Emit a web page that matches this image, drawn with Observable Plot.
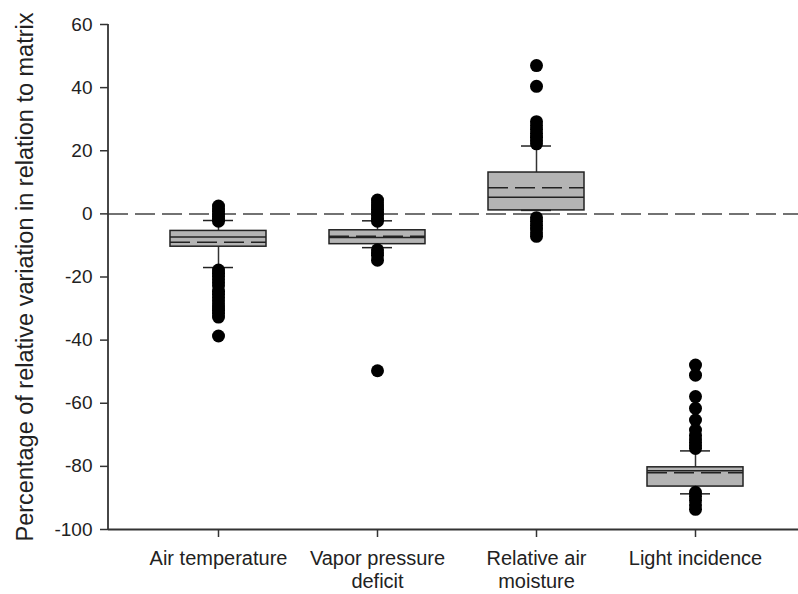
<!DOCTYPE html>
<html>
<head>
<meta charset="utf-8">
<script src="https://cdn.jsdelivr.net/npm/d3@7"></script>
<script src="https://cdn.jsdelivr.net/npm/@observablehq/plot@0.6"></script>
<style>
  html, body { margin: 0; padding: 0; background: #fff; }
  #chart { width: 798px; height: 594px; }
</style>
</head>
<body>
<div id="chart"></div>
<script>
const categories = ["Air temperature", "Vapor pressure\ndeficit", "Relative air\nmoisture", "Light incidence"];
const q1 = [-10.4, -9.6, 1.1, -86.4];
const q3 = [-5.4, -5.2, 13.1, -80.3];
const median = [-7.3, -7.5, 5.3, -81.4];
const mean = [-9.0, -7.1, 8.3, -82.0];
const whiskerLo = [-17.0, -10.7, 1.1, -88.7];
const whiskerHi = [-2.1, -2.2, 21.5, -75.1];
const outliersAir = [2.5, 1.6, 0.8, 0, -0.8, -1.5, -2.3, -17.8, -18.8, -19.8, -20.8, -21.8, -22.8, -24.5, -25.5, -26.5, -27.5, -28.5, -29.5, -30.5, -31.5, -32.7, -38.7];
const outliersVpd = [4.4, 3.5, 2.5, 1.5, 0.5, -0.5, -1.5, -2.3, -11.4, -12.3, -13.2, -14.7, -49.7];
const outliersRh = [47, 40.4, 29.2, 28, 26.8, 25.5, 24.3, 23.2, 22.2, -1.2, -2.4, -3.6, -4.8, -6, -7.1];
const outliersLight = [-47.9, -51.1, -57.9, -61.6, -65.3, -68.5, -70.2, -71.3, -72.4, -73.4, -74.3, -88.2, -89.5, -90.8, -92.2, -93.6];
const yTicks = [-100, -80, -60, -40, -20, 0, 20, 40, 60];
const yLabel = "Percentage of relative variation in relation to matrix";

const boxes = categories.map((c, i) => ({
  cat: c, q1: q1[i], q3: q3[i], median: median[i], mean: mean[i],
  lo: whiskerLo[i], hi: whiskerHi[i]
}));
const outlierLists = [outliersAir, outliersVpd, outliersRh, outliersLight];
const outliers = outlierLists.flatMap((list, i) => list.map(v => ({cat: categories[i], v})));

const ink = "#222";

const leftAxisLine = (index, scales, values, dims) => {
  const ns = "http://www.w3.org/2000/svg";
  const l = document.createElementNS(ns, "line");
  l.setAttribute("x1", dims.marginLeft);
  l.setAttribute("x2", dims.marginLeft);
  l.setAttribute("y1", dims.marginTop);
  l.setAttribute("y2", dims.height - dims.marginBottom);
  l.setAttribute("stroke", "#333");
  l.setAttribute("stroke-width", 1.8);
  return l;
};

const chart = Plot.plot({
  width: 798,
  height: 594,
  marginLeft: 108,
  marginRight: 0,
  marginTop: 24,
  marginBottom: 65,
  style: {fontFamily: "'Liberation Sans', Arial, sans-serif", color: ink, background: "#fff"},
  x: {type: "band", domain: categories, range: [138.5, 774.5], paddingInner: 0.396, paddingOuter: 0.198},
  y: {domain: [-100, 60]},
  marks: [
    Plot.ruleY([0], {stroke: "#444", strokeWidth: 1.5, strokeDasharray: "20,7"}),
    Plot.ruleX(boxes, {x: "cat", y1: "q3", y2: "hi", stroke: "#333", strokeWidth: 1.5}),
    Plot.ruleX(boxes, {x: "cat", y1: "q1", y2: "lo", stroke: "#333", strokeWidth: 1.5}),
    Plot.barY(boxes, {x: "cat", y1: "q1", y2: "q3", fill: "#b4b4b4", stroke: ink, strokeWidth: 1.5}),
    Plot.tickY(boxes, {x: "cat", y: "median", stroke: ink, strokeWidth: 1.5}),
    Plot.tickY(boxes, {x: "cat", y: "mean", stroke: ink, strokeWidth: 1.5, strokeDasharray: "20,7"}),
    Plot.tickY(boxes, {x: "cat", y: "hi", stroke: ink, strokeWidth: 1.5, insetLeft: 33, insetRight: 33}),
    Plot.tickY(boxes, {x: "cat", y: "lo", stroke: ink, strokeWidth: 1.5, insetLeft: 33, insetRight: 33}),
    Plot.dot(outliers, {x: "cat", y: "v", r: 6.5, fill: "#000", stroke: null}),
    Plot.ruleY([-100], {stroke: "#333", strokeWidth: 1.8}),
    leftAxisLine,
    Plot.axisY({ticks: yTicks, tickSize: 8, tickPadding: 8, fontSize: 19, tickFormat: d => String(d), label: null, stroke: "#333", strokeWidth: 1.5}),
    Plot.axisX({tickSize: 8, tickPadding: 12, fontSize: 20, label: null, stroke: "#333", strokeWidth: 1.5, lineHeight: 1.12}),
    Plot.text([yLabel], {frameAnchor: "left", text: d => d, rotate: -90, textAnchor: "middle", dx: -83.5, fontSize: 23.5, fill: ink})
  ]
});
document.getElementById("chart").appendChild(chart);
</script>
</body>
</html>
